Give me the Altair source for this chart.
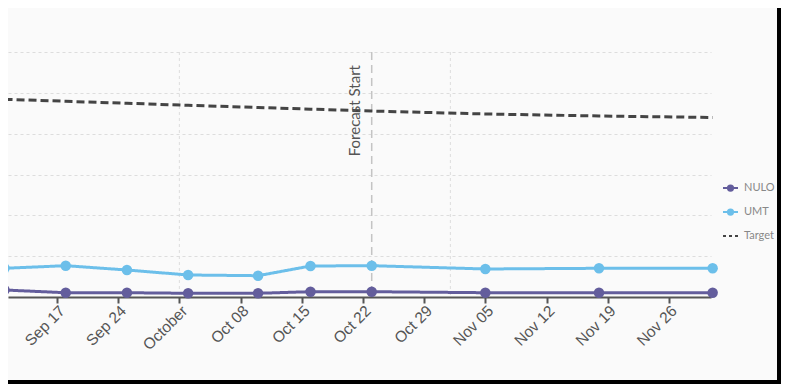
import altair as alt
import pandas as pd

# ---- data ----
dates = ["2018-09-11", "2018-09-18", "2018-09-25", "2018-10-02", "2018-10-10",
         "2018-10-16", "2018-10-23", "2018-11-05", "2018-11-18", "2018-12-01"]
nulo = [1.71, 1.05, 1.05, 0.91, 0.91, 1.30, 1.30, 1.05, 1.05, 1.05]
umt = [7.03, 7.67, 6.61, 5.39, 5.22, 7.59, 7.67, 6.86, 7.03, 7.03]
target = [48.42, 47.93, 47.44, 46.95, 46.41, 46.00, 45.55, 44.82, 44.33, 43.96]

series_names = ["NULO", "UMT", "Target"]
series_colors = {"NULO": "#635d9c", "UMT": "#6cbfea", "Target": "#444444"}
series_dash = {"NULO": [1, 0], "UMT": [1, 0], "Target": [8, 4]}
tick_dates = ["2018-09-17", "2018-09-24", "2018-10-01", "2018-10-08", "2018-10-15",
              "2018-10-22", "2018-10-29", "2018-11-05", "2018-11-12", "2018-11-19",
              "2018-11-26"]
month_starts = ["2018-10-01", "2018-11-01"]
forecast_start = ["2018-10-23"]
forecast_label = ["Forecast Start"]
x_domain = ["2018-09-11T09:30:00Z", "2018-11-30T19:30:00Z"]
y_ticks = [0, 10, 20, 30, 40, 50, 60]

rows = []
for name, vals in zip(series_names, [nulo, umt, target]):
    for d, v in zip(dates, vals):
        rows.append({"date": d, "value": v, "series": name})
df = pd.DataFrame(rows)


def ms(s):
    return int(pd.Timestamp(s, tz="UTC").timestamp() * 1000)


x_scale = alt.Scale(type="utc", domain=[ms(x_domain[0]), ms(x_domain[1])])
x_axis = alt.Axis(
    values=[ms(t) for t in tick_dates],
    labelExpr="utcdate(datum.value) == 1 ? utcFormat(datum.value, '%B') : utcFormat(datum.value, '%b %d')",
    grid=False, labelAngle=-45, labelFont="Liberation Sans", labelFontSize=15.5,
    labelColor="#555555", domainColor="#555555", domainWidth=2, tickColor="#555555",
    tickWidth=2, tickSize=6, title=None, labelPadding=0, labelFlush=False,
    labelOverlap=False,
)
y_scale = alt.Scale(domain=[0, 60])
y_axis = alt.Axis(values=y_ticks, labels=False, ticks=False, domain=False, title=None,
                  grid=True, gridColor="#dddddd", gridDash=[3, 3], gridWidth=1)

# plot scales use a different domain order than the legend scales so that the
# (disabled) plot legends are not merged with the visible legend
plot_order = ["Target", "NULO", "UMT"]
color_scale = alt.Scale(domain=plot_order, range=[series_colors[s] for s in plot_order])
dash_scale = alt.Scale(domain=plot_order, range=[series_dash[s] for s in plot_order])

base = alt.Chart(df)

lines = base.mark_line(strokeWidth=3).encode(
    x=alt.X("date:T", scale=x_scale, axis=x_axis),
    y=alt.Y("value:Q", scale=y_scale, axis=y_axis),
    color=alt.Color("series:N", scale=color_scale, legend=None),
    strokeDash=alt.StrokeDash("series:N", scale=dash_scale, legend=None),
    order=alt.Order("date:T"),
)

points = base.transform_filter("datum.series != 'Target'").mark_circle(size=110, opacity=1).encode(
    x="date:T", y="value:Q",
    color=alt.Color("series:N", scale=color_scale, legend=None),
)

# legend built from an invisible point layer
path_dot = "M-1,0L1,0M-0.35,0A0.35,0.35,0,1,0,0.35,0A0.35,0.35,0,1,0,-0.35,0Z"
path_dash = "M-1,0L-0.6,0M-0.2,0L0.2,0M0.6,0L1,0"
legend_range = [series_colors[s] for s in series_names]
legend = alt.Legend(orient="none", legendX=714, legendY=127.5, title=None,
                    symbolSize=225, symbolStrokeWidth=2, symbolOpacity=1,
                    labelFont="Lato", labelFontSize=11, labelColor="#888888",
                    labelOffset=5, rowPadding=8, padding=0)
legend_layer = base.mark_point(filled=True, opacity=0).encode(
    x="date:T", y="value:Q",
    fill=alt.Fill("series:N", scale=alt.Scale(domain=series_names, range=legend_range), legend=legend),
    stroke=alt.Stroke("series:N", scale=alt.Scale(domain=series_names, range=legend_range), legend=legend),
    shape=alt.Shape("series:N", scale=alt.Scale(domain=series_names, range=[path_dot, path_dot, path_dash]), legend=legend),
)

months = alt.Chart(pd.DataFrame({"date": month_starts})).mark_rule(
    color="#dddddd", strokeDash=[3, 3], strokeWidth=1).encode(x="date:T")

fc_df = pd.DataFrame({"date": forecast_start, "label": forecast_label})
fc_rule = alt.Chart(fc_df).mark_rule(color="#c4c4c4", strokeDash=[8, 5], strokeWidth=1.5).encode(x="date:T")
fc_text = alt.Chart(fc_df).mark_text(angle=270, align="right", baseline="alphabetic", dy=-12,
                                    font="Lato", fontSize=15, color="#555555").encode(
    x="date:T", y=alt.value(13), text="label:N")

border = alt.Chart(pd.DataFrame({"a": [0]})).mark_rect(
    filled=False, stroke="black", strokeWidth=4).encode(
    x=alt.value(-20), x2=alt.value(771), y=alt.value(-60), y2=alt.value(330))

chart = alt.layer(months, fc_rule, lines, points, fc_text, legend_layer, border).resolve_scale(
    x="shared", y="shared"
).properties(
    width=703, height=245,
    autosize=alt.AutoSizeParams(type="none"),
    padding={"left": 0, "top": 44, "right": 70, "bottom": 87},
    background="#fafafa",
).configure_view(stroke="transparent")

chart.save("out.html", embed_options={"renderer": "svg", "actions": False})
